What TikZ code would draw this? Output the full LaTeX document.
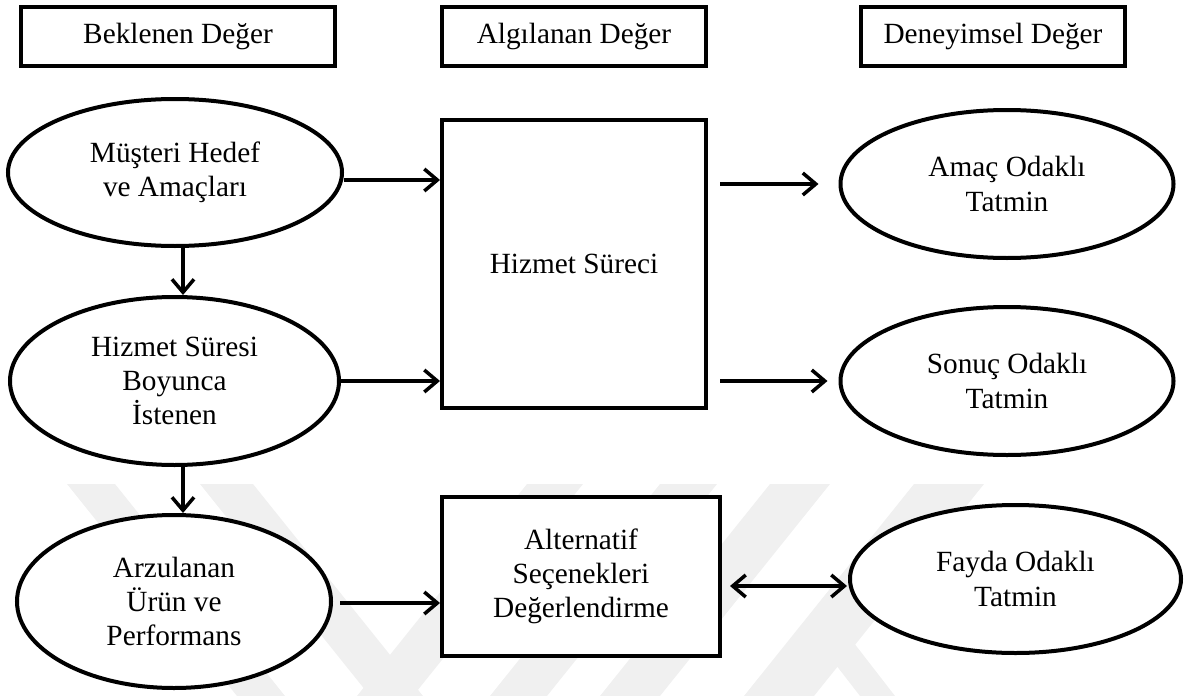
\documentclass[tikz,border=0pt]{standalone}
\usepackage{fontspec}
\setmainfont{Liberation Serif}
\usetikzlibrary{arrows.meta,shapes.geometric}
\begin{document}
\begin{tikzpicture}[x=1pt,y=-1pt,
  font=\fontsize{29.3}{34.3}\selectfont,
  box/.style={draw,line width=4pt,fill=white,inner sep=0pt,align=center},
  oval/.style={ellipse,draw,line width=4pt,fill=white,inner sep=0pt,align=center},
  arr/.style={line width=3.5pt,-{Straight Barb[length=13pt,width=22pt]}},
  darr/.style={line width=3.5pt,{Straight Barb[length=13pt,width=22pt]}-{Straight Barb[length=13pt,width=22pt]}},
  wmark/.style={fill=black!6}
]
\useasboundingbox (0,0) rectangle (1184,696);

% faint background bands
\begin{scope}
  \clip (0,484) rectangle (1184,696);
  \fill[wmark] (67,484) -- (115,484) -- (285,696) -- (237,696) -- cycle;
  \fill[wmark] (200,484) -- (253,484) -- (423,696) -- (370,696) -- cycle;
  \fill[wmark] (527,484) -- (583,484) -- (413,696) -- (357,696) -- cycle;
  \fill[wmark] (660,484) -- (717,484) -- (547,696) -- (490,696) -- cycle;
  \fill[wmark] (770,484) -- (830,484) -- (660,696) -- (600,696) -- cycle;
  \fill[wmark] (914,484) -- (984,484) -- (814,696) -- (744,696) -- cycle;
  \fill[wmark] (805,625) -- (840,625) -- (895,696) -- (860,696) -- cycle;
\end{scope}

% column headers
\node[box,minimum width=314pt,minimum height=59pt] (t1) at (178,36.5) {Beklenen Değer};
\node[box,minimum width=264pt,minimum height=59pt] (t2) at (574,36.5) {Algılanan Değer};
\node[box,minimum width=264pt,minimum height=59pt] (t3) at (993,36.5) {Deneyimsel Değer};

% expected value
\node[oval,minimum width=334pt,minimum height=147pt] (e1) at (175,172.5) {Müşteri Hedef\\ve Amaçları};
\node[oval,minimum width=329pt,minimum height=168pt] (e2) at (174.5,381) {Hizmet Süresi\\Boyunca\\İstenen};
\node[oval,minimum width=314pt,minimum height=173pt] (e3) at (174,601.5) {Arzulanan\\Ürün ve\\Performans};

% perceived value
\node[box,minimum width=264pt,minimum height=288pt] (hs) at (574,264) {Hizmet Süreci};
\node[box,minimum width=278pt,minimum height=159pt] (alt) at (581,576.5) {Alternatif\\Seçenekleri\\Değerlendirme};

% experiential value
\node[oval,minimum width=333pt,minimum height=148pt] (r1) at (1007,184) {Amaç Odaklı\\Tatmin};
\node[oval,minimum width=333pt,minimum height=148pt] (r2) at (1007,381) {Sonuç Odaklı\\Tatmin};
\node[oval,minimum width=331pt,minimum height=148pt] (r3) at (1015.5,579) {Fayda Odaklı\\Tatmin};

% connectors
\draw[arr] ([yshift=-7.5pt]e1.east) -- ([yshift=-7.5pt]e1.east -| hs.west);
\draw[arr] (e2.east) -- (e2.east -| hs.west);
\draw[arr,shorten <=7pt] ([yshift=-1.5pt]e3.east) -- ([yshift=-1.5pt]e3.east -| alt.west);
\draw[arr] ([xshift=8pt]e1.south) -- ([xshift=8pt]e1.south |- e2.north);
\draw[arr] ([xshift=8.5pt]e2.south) -- ([xshift=8.5pt]e2.south |- e3.north);
\draw[arr,shorten <=12pt,shorten >=20pt] (r1.west -| hs.east) -- (r1.west);
\draw[arr,shorten <=12pt,shorten >=11pt] (r2.west -| hs.east) -- (r2.west);
\draw[darr,shorten <=8pt,shorten >=1pt] ([yshift=-7pt]r3.west -| alt.east) -- ([yshift=-7pt]r3.west);
\end{tikzpicture}
\end{document}
